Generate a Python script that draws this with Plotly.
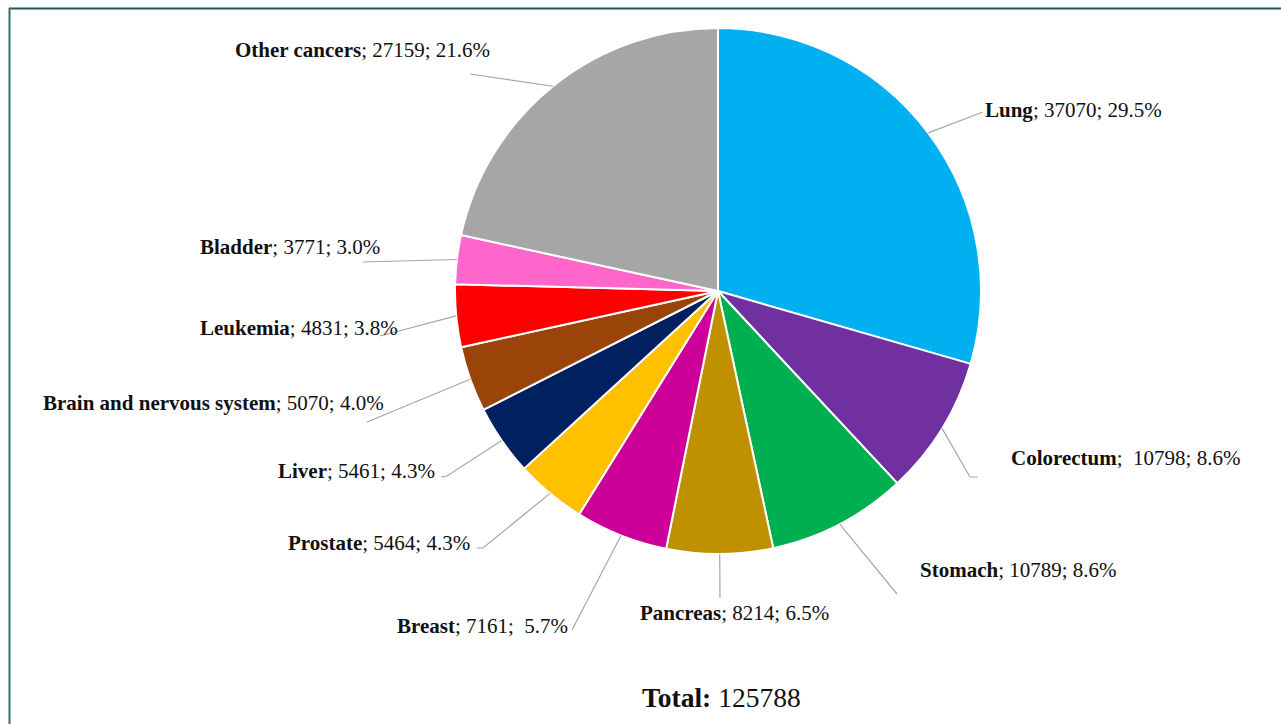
import math
import plotly.graph_objects as go

# Cancer deaths by site
sites = ["Lung", "Colorectum", "Stomach", "Pancreas", "Breast", "Prostate",
         "Liver", "Brain and nervous system", "Leukemia", "Bladder", "Other cancers"]
deaths = [37070, 10798, 10789, 8214, 7161, 5464, 5461, 5070, 4831, 3771, 27159]
colors = ["#00B0F0", "#7030A0", "#00B050", "#BF9000", "#CC0099", "#FFC000",
          "#002060", "#9A4409", "#FF0000", "#FF66CC", "#A6A6A6"]
# separators between name, count and share (a few carry an extra space)
sep1 = ["; ", ";&nbsp; ", "; ", "; ", "; ", "; ", "; ", "; ", "; ", "; ", "; "]
sep2 = ["; ", "; ", "; ", "; ", ";&nbsp; ", "; ", "; ", "; ", "; ", "; ", "; "]

W, H = 1281, 724
CX, CY, R = 718, 291, 263          # pie centre / radius in pixels
FONT = "Liberation Serif"

# label placement (left edge x, middle y) and leader-line bends, in pixels
label_pos = [(983, 110), (1009, 458), (918, 570), (638, 613), (395, 626),
             (286, 543), (276, 471), (41, 403), (198, 328), (198, 247), (233, 50)]
leader_pts = [[(983, 112)], [(970, 477), (978, 477)], [(897, 594)], [(720, 598)],
              [(572, 630)], [(483, 548), (477, 548)], [(447, 476), (441, 477)],
              [(367, 422)], [(380, 336)], [(363, 262)], [(470, 74)]]


def px(x):
    return x / W


def py(y):
    return 1 - y / H


total = sum(deaths)

fig = go.Figure(go.Pie(
    labels=sites, values=deaths, sort=False, direction="clockwise", rotation=0,
    marker=dict(colors=colors, line=dict(color="white", width=2)),
    textinfo="none", hoverinfo="label+value+percent",
    domain=dict(x=[px(CX - R), px(CX + R)], y=[py(CY + R), py(CY - R)]),
))

shapes = []
annotations = []
cum = 0
for i, (name, v) in enumerate(zip(sites, deaths)):
    mid = (cum + v / 2) / total * 2 * math.pi
    cum += v
    ex = CX + R * math.sin(mid)
    ey = CY - R * math.cos(mid)
    pts = [(ex, ey)] + leader_pts[i]
    path = "M " + " L ".join(f"{px(x):.5f},{py(y):.5f}" for x, y in pts)
    shapes.append(dict(type="path", xref="paper", yref="paper", path=path,
                       line=dict(color="#A6A6A6", width=1.2)))
    pct = v / total * 100
    lx, ly = label_pos[i]
    annotations.append(dict(
        xref="paper", yref="paper", x=px(lx), y=py(ly),
        xanchor="left", yanchor="middle", showarrow=False,
        text=f"<b>{name}</b>{sep1[i]}{v}{sep2[i]}{pct:.1f}%",
        font=dict(family=FONT, size=21, color="#111111"),
    ))

annotations.append(dict(
    xref="paper", yref="paper", x=px(721), y=py(697),
    xanchor="center", yanchor="middle", showarrow=False,
    text=f"<b>Total:</b> {total}",
    font=dict(family=FONT, size=27.5, color="#111111"),
))

# frame lines along the top and left edges
shapes.append(dict(type="line", xref="paper", yref="paper",
                   x0=px(9), y0=py(8.5), x1=1, y1=py(8.5),
                   line=dict(color="#1E5858", width=2)))
shapes.append(dict(type="line", xref="paper", yref="paper",
                   x0=px(9.5), y0=py(8), x1=px(9.5), y1=0,
                   line=dict(color="#2E6E6E", width=2)))

fig.update_layout(
    width=W, height=H, margin=dict(l=0, r=0, t=0, b=0),
    paper_bgcolor="white", plot_bgcolor="white", showlegend=False,
    shapes=shapes, annotations=annotations,
)

fig.write_html("out.html")
